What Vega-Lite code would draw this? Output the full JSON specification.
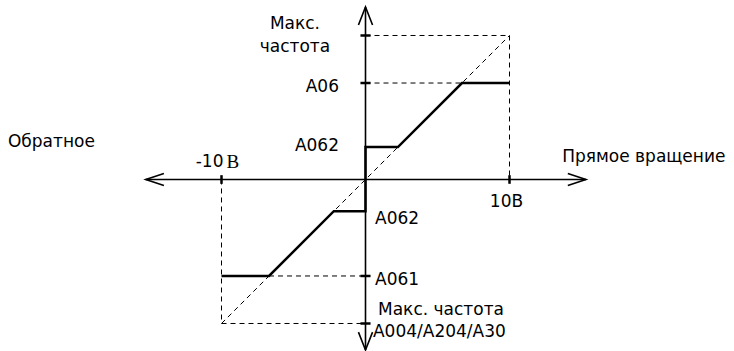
{
  "$schema": "https://vega.github.io/schema/vega-lite/v6.json",
  "width": 734,
  "height": 351,
  "padding": 0,
  "autosize": "none",
  "background": "white",
  "config": {"view": {"stroke": null}},
  "datasets": {
    "axes": [
      {"seg": "h", "o": 0, "x": -15.26, "y": 0}, {"seg": "h", "o": 1, "x": 15.31, "y": 0},
      {"seg": "v", "o": 0, "x": 0, "y": -11.84}, {"seg": "v", "o": 1, "x": 0, "y": 11.98},
      {"seg": "al", "o": 0, "x": -14.0, "y": 0.42}, {"seg": "al", "o": 1, "x": -15.26, "y": 0}, {"seg": "al", "o": 2, "x": -14.0, "y": -0.42},
      {"seg": "ar", "o": 0, "x": 14.05, "y": 0.42}, {"seg": "ar", "o": 1, "x": 15.31, "y": 0}, {"seg": "ar", "o": 2, "x": 14.05, "y": -0.42},
      {"seg": "at", "o": 0, "x": -0.49, "y": 10.73}, {"seg": "at", "o": 1, "x": 0, "y": 11.98}, {"seg": "at", "o": 2, "x": 0.49, "y": 10.73},
      {"seg": "ab", "o": 0, "x": -0.49, "y": -10.6}, {"seg": "ab", "o": 1, "x": 0, "y": -11.84}, {"seg": "ab", "o": 2, "x": 0.49, "y": -10.6}
    ],
    "ticks": [
      {"seg": "t1", "o": 0, "x": 10, "y": -0.3}, {"seg": "t1", "o": 1, "x": 10, "y": 0.3},
      {"seg": "t2", "o": 0, "x": -10, "y": -0.3}, {"seg": "t2", "o": 1, "x": -10, "y": 0.3},
      {"seg": "t3", "o": 0, "x": -0.35, "y": 10}, {"seg": "t3", "o": 1, "x": 0.35, "y": 10},
      {"seg": "t4", "o": 0, "x": -0.35, "y": 6.7}, {"seg": "t4", "o": 1, "x": 0.35, "y": 6.7},
      {"seg": "t5", "o": 0, "x": -0.35, "y": -6.7}, {"seg": "t5", "o": 1, "x": 0.35, "y": -6.7},
      {"seg": "t6", "o": 0, "x": -0.35, "y": -10}, {"seg": "t6", "o": 1, "x": 0.35, "y": -10}
    ],
    "dashed": [
      {"seg": "d1", "o": 0, "x": -10, "y": -10}, {"seg": "d1", "o": 1, "x": 10, "y": 10},
      {"seg": "d2", "o": 0, "x": 0, "y": 10}, {"seg": "d2", "o": 1, "x": 10, "y": 10},
      {"seg": "d3", "o": 0, "x": 10, "y": 10}, {"seg": "d3", "o": 1, "x": 10, "y": 0},
      {"seg": "d4", "o": 0, "x": 0, "y": 6.7}, {"seg": "d4", "o": 1, "x": 6.7, "y": 6.7},
      {"seg": "d5", "o": 0, "x": -10, "y": 0}, {"seg": "d5", "o": 1, "x": -10, "y": -10},
      {"seg": "d6", "o": 0, "x": -10, "y": -10}, {"seg": "d6", "o": 1, "x": 0, "y": -10},
      {"seg": "d7", "o": 0, "x": -6.7, "y": -6.7}, {"seg": "d7", "o": 1, "x": 0, "y": -6.7}
    ],
    "curve": [
      {"seg": "up", "o": 0, "x": 0, "y": 0}, {"seg": "up", "o": 1, "x": 0, "y": 2.25}, {"seg": "up", "o": 2, "x": 2.25, "y": 2.25}, {"seg": "up", "o": 3, "x": 6.7, "y": 6.7}, {"seg": "up", "o": 4, "x": 10, "y": 6.7},
      {"seg": "lo", "o": 0, "x": 0, "y": 0}, {"seg": "lo", "o": 1, "x": 0, "y": -2.2}, {"seg": "lo", "o": 2, "x": -2.2, "y": -2.2}, {"seg": "lo", "o": 3, "x": -6.7, "y": -6.7}, {"seg": "lo", "o": 4, "x": -10, "y": -6.7}
    ],
    "labelsCenter": [
      {"label": "Макс.", "x": -4.9, "y": 10.8},
      {"label": "частота", "x": -4.9, "y": 9.2},
      {"label": "10В", "x": 9.79, "y": -1.56}
    ],
    "labelsRight": [
      {"label": "A06", "x": -1.84, "y": 6.42},
      {"label": "A062", "x": -1.84, "y": 2.33},
      {"label": "-10", "x": -9.86, "y": 1.22}
    ],
    "labelsLeft": [
      {"label": "A062", "x": 0.66, "y": -2.74},
      {"label": "A061", "x": 0.66, "y": -6.98},
      {"label": "Макс. частота", "x": 0.87, "y": -9.06},
      {"label": "A004/A204/A30", "x": 0.52, "y": -10.59},
      {"label": "Обратное", "x": -24.83, "y": 2.6},
      {"label": "Прямое вращение", "x": 13.66, "y": 1.56}
    ],
    "labelsSerif": [
      {"label": "В", "x": -9.66, "y": 1.22}
    ]
  },
  "encoding": {
    "x": {"field": "x", "type": "quantitative", "scale": {"domain": [-25.382, 25.59], "nice": false, "zero": false}, "axis": null},
    "y": {"field": "y", "type": "quantitative", "scale": {"domain": [-11.91, 12.465], "nice": false, "zero": false}, "axis": null}
  },
  "layer": [
    {
      "data": {"name": "dashed"},
      "mark": {"type": "line", "color": "black", "strokeWidth": 1, "strokeDash": [5, 4]},
      "encoding": {"detail": {"field": "seg"}, "order": {"field": "o", "type": "quantitative"}}
    },
    {
      "data": {"name": "axes"},
      "mark": {"type": "line", "color": "black", "strokeWidth": 1.6},
      "encoding": {"detail": {"field": "seg"}, "order": {"field": "o", "type": "quantitative"}}
    },
    {
      "data": {"name": "ticks"},
      "mark": {"type": "line", "color": "black", "strokeWidth": 2.5},
      "encoding": {"detail": {"field": "seg"}, "order": {"field": "o", "type": "quantitative"}}
    },
    {
      "data": {"name": "curve"},
      "mark": {"type": "line", "color": "black", "strokeWidth": 2.5},
      "encoding": {"detail": {"field": "seg"}, "order": {"field": "o", "type": "quantitative"}}
    },
    {
      "data": {"name": "labelsCenter"},
      "mark": {"type": "text", "align": "center", "baseline": "middle", "font": "DejaVu Sans", "fontSize": 17, "color": "black"},
      "encoding": {"text": {"field": "label"}}
    },
    {
      "data": {"name": "labelsRight"},
      "mark": {"type": "text", "align": "right", "baseline": "middle", "font": "DejaVu Sans", "fontSize": 17, "color": "black"},
      "encoding": {"text": {"field": "label"}}
    },
    {
      "data": {"name": "labelsLeft"},
      "mark": {"type": "text", "align": "left", "baseline": "middle", "font": "DejaVu Sans", "fontSize": 17, "color": "black"},
      "encoding": {"text": {"field": "label"}}
    },
    {
      "data": {"name": "labelsSerif"},
      "mark": {"type": "text", "align": "left", "baseline": "middle", "font": "Liberation Serif", "fontSize": 19, "color": "black"},
      "encoding": {"text": {"field": "label"}}
    }
  ]
}
